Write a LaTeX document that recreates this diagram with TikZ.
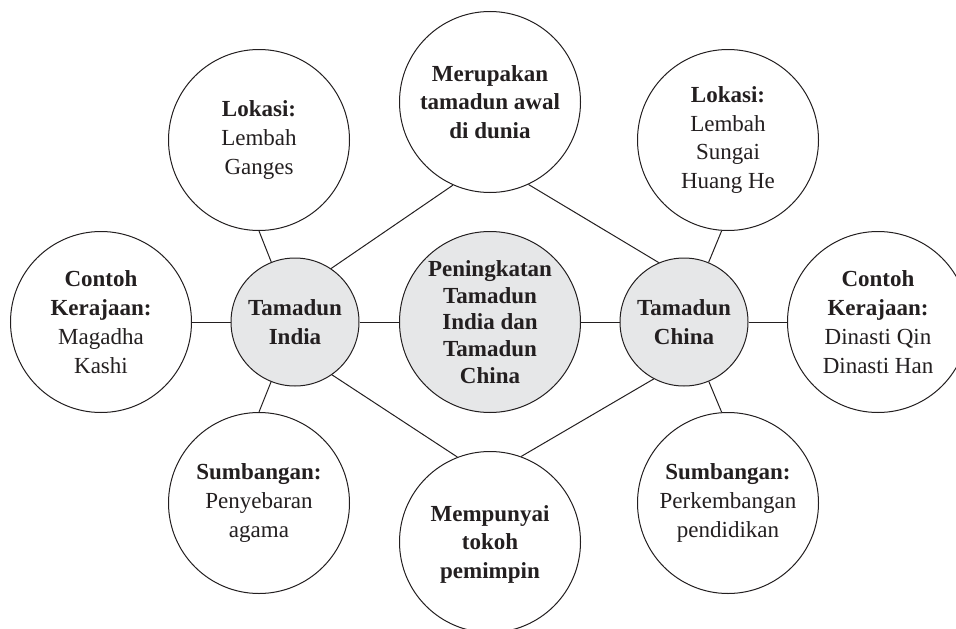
\documentclass[tikz,border=0pt]{standalone}
\usepackage{fontspec}
\setmainfont{Liberation Serif}
\definecolor{ink}{HTML}{231F20}
\definecolor{hub}{HTML}{E6E7E8}
\begin{document}
\begin{tikzpicture}[x=1pt,y=-1pt,
  bubble/.style={circle,draw=ink,line width=1pt,fill=white,minimum size=181pt,inner sep=0pt,
    align=center,text=ink,font=\fontsize{23}{28.8}\selectfont},
  core/.style={bubble,fill=hub},
  small/.style={core,minimum size=128pt},
  link/.style={draw=ink,line width=1pt}]
\useasboundingbox (0,0) rectangle (956,629);
\clip (0,0) rectangle (956,629);
% hub and main civilisations
\node[core,font=\fontsize{23}{26.7}\selectfont] (centre) at (490,322) {\bfseries Peningkatan\\\bfseries Tamadun\\\bfseries India dan\\\bfseries Tamadun\\\bfseries China};
\node[small] (india) at (295,322) {\bfseries Tamadun\\\bfseries India};
\node[small] (china) at (684,322) {\bfseries Tamadun\\\bfseries China};
% outer bubbles
\node[bubble] (top) at (490,102) {\bfseries Merupakan\\\bfseries tamadun awal\\\bfseries di dunia};
\node[bubble,text depth=0pt] (bottom) at (490,542) {\bfseries Mempunyai\\\bfseries tokoh\\\bfseries pemimpin};
\node[bubble] (lokL) at (259,140) {\textbf{Lokasi:}\\Lembah\\Ganges};
\node[bubble] (lokR) at (728,140) {\textbf{Lokasi:}\\Lembah\\Sungai\\Huang He};
\node[bubble] (conL) at (101,322) {\textbf{Contoh}\\\textbf{Kerajaan:}\\Magadha\\Kashi};
\node[bubble] (conR) at (878,322) {\textbf{Contoh}\\\textbf{Kerajaan:}\\Dinasti Qin\\Dinasti Han};
\node[bubble] (sumL) at (259,503) {\textbf{Sumbangan:}\\Penyebaran\\agama};
\node[bubble] (sumR) at (728,503) {\textbf{Sumbangan:}\\Perkembangan\\pendidikan};
% connectors
\draw[link] (india) -- (centre);
\draw[link] (centre) -- (china);
\draw[link] (conL) -- (india);
\draw[link] (china) -- (conR);
\draw[link] (lokL.south) -- (india);
\draw[link] (sumL.north) -- (india);
\draw[link] (lokR.-94) -- (china);
\draw[link] (sumR.94) -- (china);
\draw[link] (india.56) -- (top.246);
\draw[link] (india.-55) -- (bottom.111);
\draw[link] (china.113) -- (top.-65);
\draw[link] (china.-118) -- (bottom.70);
\end{tikzpicture}
\end{document}
